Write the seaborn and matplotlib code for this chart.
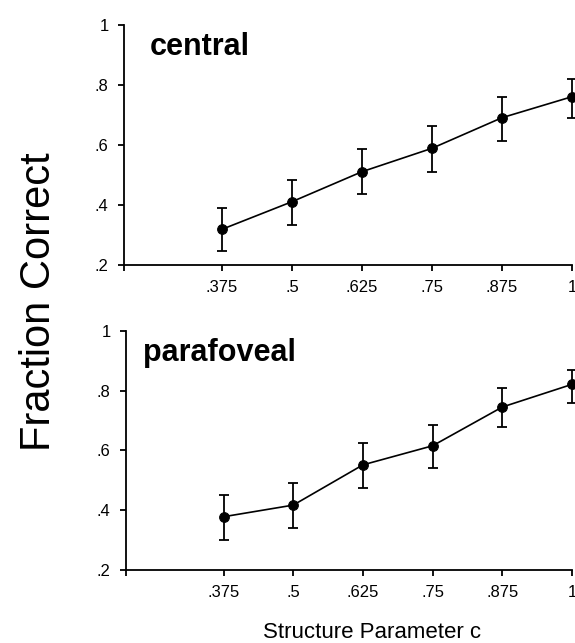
import numpy as np
import pandas as pd
import matplotlib
matplotlib.use('Agg')
import matplotlib.pyplot as plt
import seaborn as sns

# datos
c_vals = [0.375, 0.5, 0.625, 0.75, 0.875, 1.0]
central = [0.319, 0.411, 0.511, 0.589, 0.691, 0.761]
central_lo = [0.247, 0.333, 0.436, 0.510, 0.615, 0.689]
central_hi = [0.390, 0.483, 0.588, 0.663, 0.759, 0.821]
parafoveal = [0.377, 0.416, 0.551, 0.615, 0.745, 0.821]
parafoveal_lo = [0.300, 0.339, 0.474, 0.539, 0.677, 0.758]
parafoveal_hi = [0.451, 0.489, 0.625, 0.685, 0.808, 0.870]
x_ticklabels = ['', '.375', '.5', '.625', '.75', '.875', '1']
y_ticklabels = ['.2', '.4', '.6', '.8', '1']

sns.set_style('ticks')
plt.rcParams['font.family'] = ['Liberation Sans', 'DejaVu Sans']
plt.rcParams['text.color'] = 'black'
plt.rcParams['xtick.color'] = 'black'
plt.rcParams['ytick.color'] = 'black'
plt.rcParams['axes.edgecolor'] = 'black'

fig = plt.figure(figsize=(5.75, 6.43), dpi=100)
ax1 = fig.add_axes([124 / 575, 1 - 265 / 643, 448 / 575, 240 / 643])
ax2 = fig.add_axes([126 / 575, 1 - 569.5 / 643, 446 / 575, 238.5 / 643])

paneles = [
    (ax1, 'central', central, central_lo, central_hi, 0.058),
    (ax2, 'parafoveal', parafoveal, parafoveal_lo, parafoveal_hi, 0.038),
]

for ax, nombre, y, lo, hi, tx in paneles:
    df = pd.DataFrame({'c': c_vals, 'frac': y})
    y = np.array(y)
    yerr = [y - np.array(lo), np.array(hi) - y]
    ax.errorbar(c_vals, y, yerr=yerr, fmt='none', ecolor='black',
                elinewidth=1.3, capsize=3.5, capthick=1.3, clip_on=False, zorder=2)
    sns.lineplot(data=df, x='c', y='frac', ax=ax, color='black', linewidth=1.2,
                 marker='o', markersize=7, markeredgecolor='black', clip_on=False, zorder=3)
    ax.set_xlim(0.2, 1.0)
    ax.set_ylim(0.2, 1.0)
    ax.set_xticks([0.2] + c_vals)
    ax.set_xticklabels(x_ticklabels)
    ax.set_yticks([0.2, 0.4, 0.6, 0.8, 1.0])
    ax.set_yticklabels(y_ticklabels)
    ax.tick_params(axis='both', labelsize=12, length=4, width=1.3,
                   color='black', labelcolor='black')
    ax.tick_params(axis='x', pad=7)
    ax.tick_params(axis='y', pad=7)
    ax.set_xlabel('')
    ax.set_ylabel('')
    sns.despine(ax=ax)
    for s in ['left', 'bottom']:
        ax.spines[s].set_linewidth(1.3)
        ax.spines[s].set_color('black')
    ax.text(tx, 0.875, nombre, transform=ax.transAxes, fontsize=22,
            fontweight='bold', ha='left', va='baseline', color='black')

fig.text(39 / 575, 1 - 302 / 643, 'Fraction Correct', rotation=90,
         fontsize=30, ha='center', va='center', color='black')
fig.text(372 / 575, 1 - 633 / 643, 'Structure Parameter c', fontsize=16,
         ha='center', va='center', color='black')

plt.savefig('out.png', dpi=100)
